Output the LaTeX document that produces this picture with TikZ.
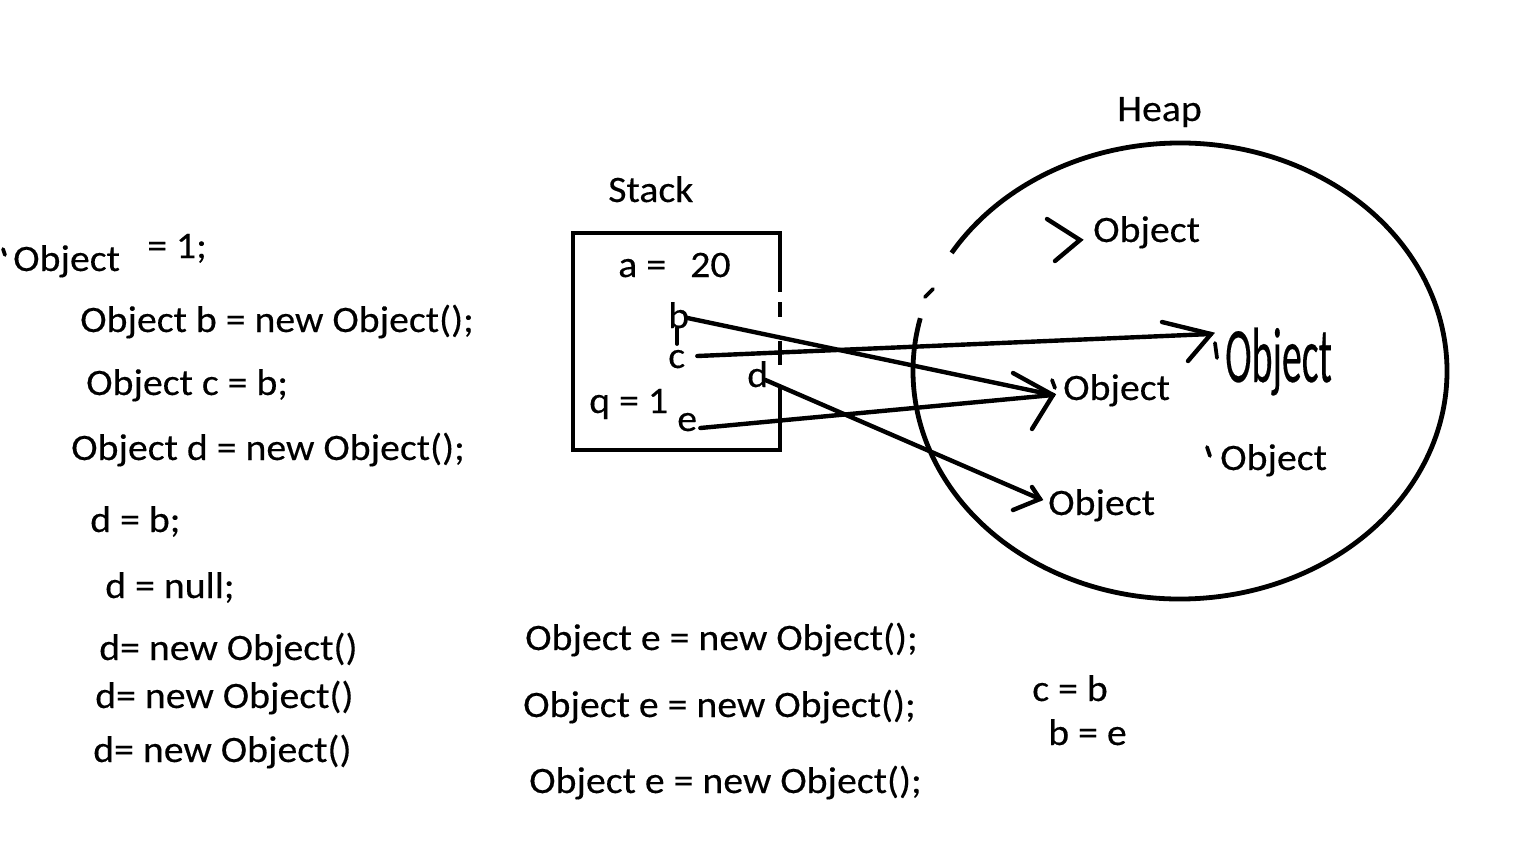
\documentclass[tikz,border=0pt]{standalone}
\usepackage{fontspec}
\setmainfont{Carlito}[FakeStretch=1.065, FakeBold=0.3]
\usepackage{tikz}
\usetikzlibrary{positioning,calc}

\begin{document}
\begin{tikzpicture}[
        x=0.75pt, y=-0.75pt,
        every node/.style={inner sep=0pt, anchor=base west, font=\fontsize{28}{33}\selectfont},
        ptr/.style={line width=3.3pt, line cap=round},
        wall/.style={line width=3.6pt},
        blot/.style={line width=2.8pt, line cap=round}
    ]
    \useasboundingbox (0,0) rectangle (1536,864);

    % code on the left
    \node (l0) at (13,271) {Object};
    \node (l0v) at (147,258) {= 1;};
    \node (l1) at (80,332) {Object b = new Object();};
    \node (l2) at (86,395) {Object c = b;};
    \node (l3) at (71,460) {Object d = new Object();};
    \node (l4) at (90,532) {d = b;};
    \node (l5) at (105,598) {d = null;};
    \node (l6) at (99,660) {d= new Object()};
    \node (l7) at (95,708) {d= new Object()};
    \node (l8) at (93,762) {d= new Object()};

    % code below
    \node (m1) at (525,650) {Object e = new Object();};
    \node (m2) at (523,717) {Object e = new Object();};
    \node (m3) at (529,793) {Object e = new Object();};
    \node (r1) at (1032,701) {c = b};
    \node (r2) at (1048,745) {b = e};

    % stack
    \node (stack) at (608,202) {Stack};
    \draw[wall] (780,292) -- (780,233) -- (573,233) -- (573,450) -- (780,450) -- (780,387);
    \draw[wall] (780,302) -- (780,317);
    \draw[wall] (780,341) -- (780,365);
    \node (sa) at (618,277) {a =};
    \node (s20) at (690,277) {20};
    \node (sb) at (668,328) {b};
    \node (sc) at (668,368) {c};
    \node (sd) at (747,387) {d};
    \node (sq) at (589,413) {q = 1};
    \node (se) at (677,431) {e};

    % heap
    \node (heap) at (1117,121) {Heap};
    \coordinate (heapc) at (1180,371);
    \draw[wall] (heapc) ++(211.2:267 and 228)
        arc[start angle=211.2, end angle=553.4, x radius=267, y radius=228];
    \draw[blot] (925,297) -- (933,289);
    \node (o1) at (1093,242) {Object};
    \node[yscale=2.1] (big) at (1225,382) {Object};
    \node (o2) at (1063,400) {Object};
    \node (o3) at (1048,515) {Object};
    \node (o4) at (1220,470) {Object};

    % arrow tips
    \coordinate (t1) at ($(o1.base west)+(-13,-2)$);
    \coordinate (tb) at ($(big.base west)+(-14,-48)$);
    \coordinate (t2) at ($(o2.base west)+(-10,-5)$);
    \coordinate (t3) at ($(o3.base west)+(-8,-16)$);

    % pointers
    \draw[ptr] ($(sb.base east)+(-2,-10)$) -- (t2);
    \draw[ptr] ($(se.base east)+(3,-3)$) -- (t2);
    \draw[ptr] ($(sc.base east)+(12,-12)$) -- (tb);
    \draw[ptr] ($(sd.base east)+(-3,-7)$) -- (t3);

    \draw[ptr] ($(t1)+(-33,-21)$) -- (t1) -- ($(t1)+(-25,21)$);
    \draw[ptr] ($(tb)+(-49,-12)$) -- (tb) -- ($(tb)+(-23,27)$);
    \draw[ptr] ($(t2)+(-40,-22)$) -- (t2) -- ($(t2)+(-21,34)$);
    \draw[ptr] ($(t3)+(-8,-12)$) -- (t3) -- ($(t3)+(-27,11)$);

    % stray marks
    \draw[blot] ($(sb.base west)+(9,0)$) -- ($(sb.base west)+(9,16)$);
    \draw[blot] ($(l0.base west)+(-10,-22)$) -- ($(l0.base west)+(-8,-16)$);
    \draw[blot] ($(big.base west)+(-10,-39)$) -- ($(big.base west)+(-8,-24)$);
    \draw[blot] ($(o2.base west)+(-11,-20)$) -- ($(o2.base west)+(-8,-12)$);
    \draw[blot] ($(o4.base west)+(-13,-23)$) -- ($(o4.base west)+(-10,-14)$);
\end{tikzpicture}
\end{document}
